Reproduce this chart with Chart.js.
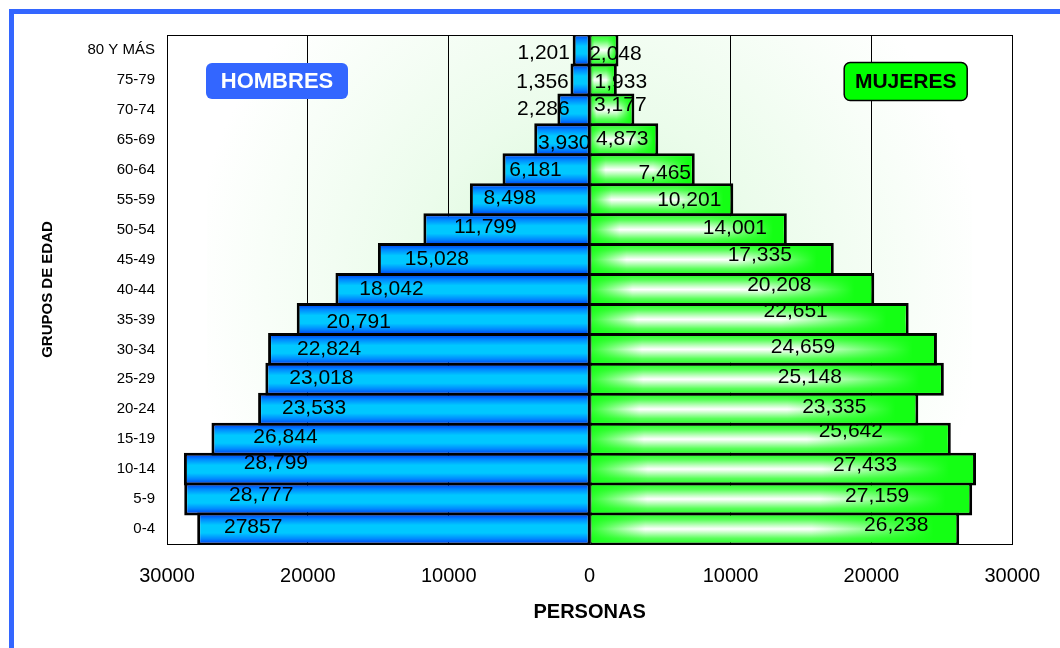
<!DOCTYPE html>
<html lang="es">
<head>
<meta charset="utf-8">
<title>Población por grupos de edad</title>
<script src="https://cdn.jsdelivr.net/npm/chart.js@4.4.0/dist/chart.umd.js"></script>
<style>
  html, body { margin: 0; padding: 0; background: #fff; width: 1060px; height: 648px; overflow: hidden; }
  #marco { position: absolute; left: 9px; top: 9px; width: 1100px; height: 700px; border-top: 5px solid #3366ff; border-left: 5px solid #3366ff; }
  #piramide { position: absolute; left: 0; top: 0; }
</style>
</head>
<body>
<div id="marco"></div>
<canvas id="piramide" width="1060" height="648"></canvas>
<script>
// Grupos de edad, de arriba hacia abajo
const gruposEdad = ['80 Y MÁS', '75-79', '70-74', '65-69', '60-64', '55-59', '50-54', '45-49',
    '40-44', '35-39', '30-34', '25-29', '20-24', '15-19', '10-14', '5-9', '0-4'];
const hombres = [1201, 1356, 2286, 3930, 6181, 8498, 11799, 15028, 18042, 20791, 22824, 23018,
    23533, 26844, 28799, 28777, 27857];
const mujeres = [2048, 1933, 3177, 4873, 7465, 10201, 14001, 17335, 20208, 22651, 24659, 25148,
    23335, 25642, 27433, 27159, 26238];
const ticksPersonas = [-30000, -20000, -10000, 0, 10000, 20000, 30000];

// la etiqueta de hombres 0-4 va sin separador de miles
const hombresSinSeparador = ['0-4'];

// colocacion de las etiquetas: px desde el extremo de la barra hacia el centro, y ajuste vertical
const despHombres = [-29, -28, -14, 30, 33, 40, 62, 59, 56, 62, 61, 56, 56, 74, 92, 77, 56];
const altoHombres = [3, 2, -1, 3, 0, -1, -2, 0, 0, 3, 0, -1, -1, -2, -6, -4, -2];
const despMujeres = [3, -4, 14, 36, 30, 44, 52, 74, 95, 113, 134, 134, 84, 100, 111, 95, 63];
const altoMujeres = [4, 2, -5, -1, 3, 1, -1, -4, -4, -8, -2, -2, -2, -8, -4, -3, -4];

const FUENTE = '"Liberation Sans", Arial, sans-serif';
const ANCHO_BARRA = 1.1;

function gradienteBarra(ctx, paradas, porDefecto) {
    const chart = ctx.chart;
    const y = chart.scales.y;
    if (!chart.chartArea || !y) return porDefecto;
    const yc = y.getPixelForValue(ctx.dataIndex);
    const medio = Math.abs(y.getPixelForValue(1) - y.getPixelForValue(0)) * ANCHO_BARRA / 2;
    const g = chart.ctx.createLinearGradient(0, yc - medio, 0, yc + medio);
    paradas.forEach(p => g.addColorStop(p[0], p[1]));
    return g;
}

const paradasAzul = [[0, '#0028f0'], [0.2, '#0088ff'], [0.38, '#00c8ff'], [0.62, '#00c8ff'], [0.8, '#0088ff'], [1, '#0028f0']];
const paradasVerde = [[0, '#14ff14'], [0.22, '#5cff5c'], [0.4, '#c8ffc8'], [0.5, '#ffffff'], [0.6, '#c8ffc8'], [0.78, '#5cff5c'], [1, '#14ff14']];

function redondeado(c, x, y, w, h, r) {
    c.beginPath();
    c.moveTo(x + r, y);
    c.arcTo(x + w, y, x + w, y + h, r);
    c.arcTo(x + w, y + h, x, y + h, r);
    c.arcTo(x, y + h, x, y, r);
    c.arcTo(x, y, x + w, y, r);
    c.closePath();
}

// fondo verde difuso del area de trazado
const fondo = {
    id: 'fondo',
    beforeDraw(chart) {
        const {ctx, chartArea: a} = chart;
        const cx = chart.scales.x.getPixelForValue(0);
        const cy = (a.top + a.bottom) / 2;
        const g = ctx.createRadialGradient(cx, cy, 0, cx, cy, 400);
        g.addColorStop(0, '#d4f7d4');
        g.addColorStop(0.45, '#ebfceb');
        g.addColorStop(1, '#ffffff');
        ctx.save();
        ctx.fillStyle = g;
        ctx.fillRect(a.left + 40, a.top, a.right - a.left - 80, a.bottom - a.top);
        ctx.restore();
    },
    beforeDatasetsDraw(chart) {
        const {ctx, chartArea: a} = chart;
        ctx.save();
        ctx.strokeStyle = '#000';
        ctx.lineWidth = 1;
        ctx.strokeRect(Math.round(a.left) + 0.5, Math.round(a.top) + 0.5, Math.round(a.right - a.left), Math.round(a.bottom - a.top));
        ctx.restore();
    }
};

// brillo horizontal de las barras de mujeres: verde en los extremos
const brilloMujeres = {
    id: 'brilloMujeres',
    afterDatasetDraw(chart, args) {
        if (args.index !== 1) return;
        const ctx = chart.ctx;
        chart.getDatasetMeta(1).data.forEach(el => {
            const {x, y, base, height} = el.getProps(['x', 'y', 'base', 'height'], true);
            const g = ctx.createLinearGradient(base, 0, x, 0);
            g.addColorStop(0, 'rgba(20,255,20,0.9)');
            g.addColorStop(0.15, 'rgba(20,255,20,0)');
            g.addColorStop(0.6, 'rgba(20,255,20,0)');
            g.addColorStop(0.93, 'rgba(20,255,20,1)');
            g.addColorStop(1, 'rgba(20,255,20,1)');
            ctx.save();
            ctx.fillStyle = g;
            ctx.fillRect(base + 1.5, y - height / 2 + 3, x - base - 4.5, height - 6);
            ctx.restore();
        });
    }
};

// etiquetas de valores
const etiquetas = {
    id: 'etiquetas',
    afterDatasetsDraw(chart) {
        const ctx = chart.ctx;
        ctx.save();
        ctx.font = '21px ' + FUENTE;
        ctx.fillStyle = '#000';
        ctx.textAlign = 'center';
        ctx.textBaseline = 'middle';
        chart.getDatasetMeta(0).data.forEach((el, i) => {
            const v = hombres[i];
            const txt = hombresSinSeparador.includes(gruposEdad[i]) ? String(v) : v.toLocaleString('en-US');
            ctx.fillText(txt, el.x + despHombres[i], el.y + altoHombres[i]);
        });
        chart.getDatasetMeta(1).data.forEach((el, i) => {
            ctx.fillText(mujeres[i].toLocaleString('en-US'), el.x - despMujeres[i], el.y + altoMujeres[i]);
        });
        ctx.restore();
    }
};

// rotulos HOMBRES / MUJERES
const rotulos = {
    id: 'rotulos',
    afterDraw(chart) {
        const {ctx, chartArea: a} = chart;
        ctx.save();
        ctx.textAlign = 'center';
        ctx.textBaseline = 'middle';

        redondeado(ctx, a.left + 39, a.top + 28, 142, 36, 6);
        ctx.fillStyle = '#3366ff';
        ctx.fill();
        ctx.font = 'bold 22px ' + FUENTE;
        ctx.fillStyle = '#fff';
        ctx.fillText('HOMBRES', a.left + 110, a.top + 47);

        redondeado(ctx, a.right - 168, a.top + 27.5, 123, 38, 6);
        ctx.fillStyle = '#00ff00';
        ctx.fill();
        ctx.lineWidth = 1.5;
        ctx.strokeStyle = '#000';
        ctx.stroke();
        ctx.font = 'bold 21px ' + FUENTE;
        ctx.fillStyle = '#000';
        ctx.fillText('MUJERES', a.right - 106.5, a.top + 47.5);
        ctx.restore();
    }
};

new Chart(document.getElementById('piramide'), {
    type: 'bar',
    data: {
        labels: gruposEdad,
        datasets: [{
            label: 'Hombres',
            data: hombres.map(v => -v),
            backgroundColor: ctx => gradienteBarra(ctx, paradasAzul, '#00c8ff'),
            borderColor: '#000',
            borderWidth: {top: 3, bottom: 3, left: 3, right: 1.5},
            borderSkipped: false,
            barPercentage: ANCHO_BARRA,
            categoryPercentage: 1
        }, {
            label: 'Mujeres',
            data: mujeres,
            backgroundColor: ctx => gradienteBarra(ctx, paradasVerde, '#66ff66'),
            borderColor: '#000',
            borderWidth: {top: 3, bottom: 3, left: 1.5, right: 3},
            borderSkipped: false,
            barPercentage: ANCHO_BARRA,
            categoryPercentage: 1
        }]
    },
    options: {
        indexAxis: 'y',
        responsive: false,
        animation: false,
        layout: { padding: { top: 35, right: 47, bottom: 0, left: 0 } },
        plugins: {
            legend: { display: false },
            tooltip: { enabled: false }
        },
        scales: {
            x: {
                stacked: true,
                min: -30000,
                max: 30000,
                afterBuildTicks: scale => { scale.ticks = ticksPersonas.map(v => ({ value: v })); },
                afterFit: scale => { scale.height = 104; },
                grid: { color: '#000', lineWidth: 1, drawTicks: false },
                border: { display: true, color: '#000' },
                ticks: {
                    padding: 20,
                    color: '#000',
                    font: { family: FUENTE, size: 20 },
                    callback: v => String(Math.abs(v))
                },
                title: {
                    display: true,
                    text: 'PERSONAS',
                    color: '#000',
                    font: { family: FUENTE, size: 20, weight: 'bold' },
                    padding: { top: 0, bottom: 24 }
                }
            },
            y: {
                stacked: true,
                afterFit: scale => { scale.width = 167; },
                grid: { display: false, drawTicks: false },
                border: { display: true, color: '#000' },
                ticks: {
                    autoSkip: false,
                    padding: 12,
                    color: '#000',
                    font: { family: FUENTE, size: 15 }
                },
                title: {
                    display: true,
                    text: 'GRUPOS DE EDAD',
                    color: '#000',
                    font: { family: FUENTE, size: 15, weight: 'bold' },
                    padding: { top: 39, bottom: 0 }
                }
            }
        }
    },
    plugins: [fondo, brilloMujeres, etiquetas, rotulos]
});
</script>
</body>
</html>
